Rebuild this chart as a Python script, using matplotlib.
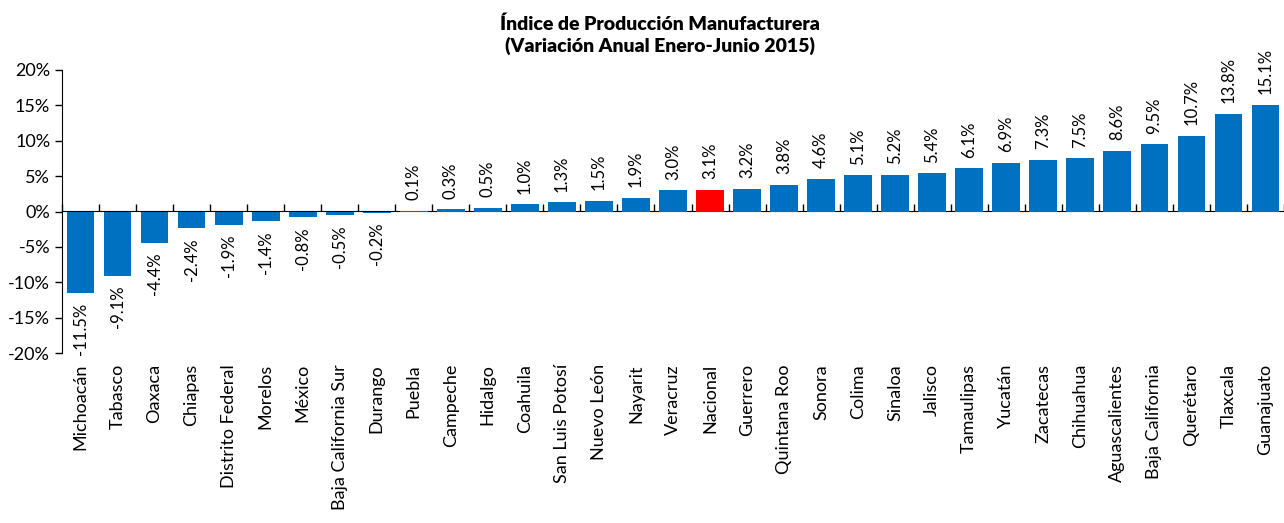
import numpy as np
import matplotlib.pyplot as plt

estados = ["Michoacán", "Tabasco", "Oaxaca", "Chiapas", "Distrito Federal", "Morelos",
           "México", "Baja California Sur", "Durango", "Puebla", "Campeche", "Hidalgo",
           "Coahuila", "San Luis Potosí", "Nuevo León", "Nayarit", "Veracruz", "Nacional",
           "Guerrero", "Quintana Roo", "Sonora", "Colima", "Sinaloa", "Jalisco",
           "Tamaulipas", "Yucatán", "Zacatecas", "Chihuahua", "Aguascalientes",
           "Baja California", "Querétaro", "Tlaxcala", "Guanajuato"]
variacion = [-11.5, -9.1, -4.4, -2.4, -1.9, -1.4, -0.8, -0.5, -0.2, 0.1, 0.3, 0.5,
             1.0, 1.3, 1.5, 1.9, 3.0, 3.1, 3.2, 3.8, 4.6, 5.1, 5.2, 5.4, 6.1, 6.9,
             7.3, 7.5, 8.6, 9.5, 10.7, 13.8, 15.1]

plt.rcParams['font.family'] = ['Lato', 'DejaVu Sans']

fig = plt.figure(figsize=(12.84, 5.23), dpi=100)
ax = fig.add_axes([62 / 1284, 1 - 353 / 523, 1 - 62 / 1284, 283 / 523])

x = np.arange(len(estados))
colores = ["#FF0000" if e == "Nacional" else "#0070C0" for e in estados]
ax.bar(x, variacion, width=0.75, color=colores, zorder=2)

for xi, v in zip(x, variacion):
    if v >= 0:
        ax.text(xi, v + 1.5, f"{v:.1f}%", rotation=90, ha="center", va="bottom", fontsize=12)
    else:
        ax.text(xi, v - 1.4, f"{v:.1f}%", rotation=90, ha="center", va="top", fontsize=12)

ax.set_xlim(-0.5, len(estados) - 0.5)
ax.set_ylim(-20, 20)
ax.set_yticks(np.arange(-20, 21, 5))
ax.set_yticklabels([f"{t}%" for t in range(-20, 21, 5)], fontsize=13)
ax.tick_params(axis="y", direction="out", length=5, width=1)

ax.set_xticks(x)
ax.set_xticklabels(estados, rotation=90, fontsize=13)
ax.tick_params(axis="x", length=0, pad=8)

for s in ["top", "right", "bottom"]:
    ax.spines[s].set_visible(False)
ax.spines["left"].set_color("black")

# axis line at zero with ticks between categories
sec = ax.secondary_xaxis(0.5)
sec.set_xticks(np.arange(-0.5, len(estados), 1.0))
sec.set_xticklabels([])
sec.tick_params(axis="x", direction="out", length=5, width=1)
sec.spines["bottom"].set_linewidth(1.2)

fig.text(0.514, 0.97, "Índice de Producción Manufacturera\n(Variación Anual Enero-Junio 2015)",
         ha="center", va="top", fontsize=14, fontweight="heavy", linespacing=1.25)

fig.savefig("out.png", dpi=100)
